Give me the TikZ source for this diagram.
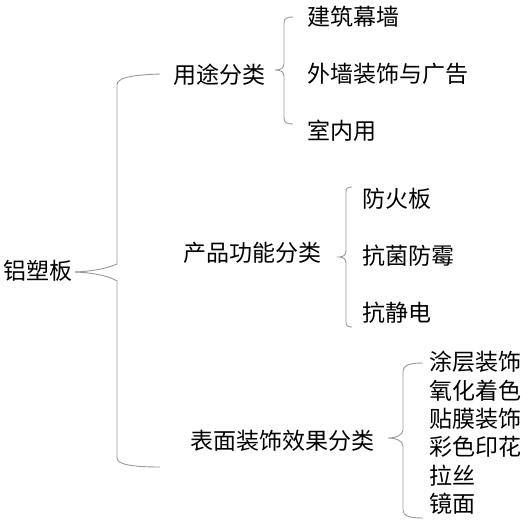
\documentclass[tikz,border=0pt]{standalone}
\usepackage{fontspec}
\newfontfamily\cjk{Noto Sans CJK SC}
\usetikzlibrary{positioning}

\begin{document}
\begin{tikzpicture}[x=1pt,y=-1pt,
                    every node/.style={font=\cjk\fontsize{23}{23}\selectfont,
                                       inner sep=0pt,anchor=west}]
  \tikzstyle{brace}=[draw=black!40,line width=0.9pt]
  \useasboundingbox (0,0) rectangle (531,522);

  \node (alu)  at (3,271)   {铝塑板};
  \node (use)  at (173,75)  {用途分类};
  \node (func) at (183,253) {产品功能分类};
  \node (surf) at (190,441) {表面装饰效果分类};

  \node (wall)   at (307,17)                               {建筑幕墙};
  \node (advert) [below=57pt of wall.west,anchor=west]     {外墙装饰与广告};
  \node (indoor) [below=57pt of advert.west,anchor=west]   {室内用};

  \node (fire)   at (362,199)                              {防火板};
  \node (germ)   [below=57pt of fire.west,anchor=west]     {抗菌防霉};
  \node (static) [below=57pt of germ.west,anchor=west]     {抗静电};

  \node (coat)   at (429,362)                              {涂层装饰};
  \node (oxide)  [below=28.4pt of coat.west,anchor=west]   {氧化着色};
  \node (film)   [below=28.4pt of oxide.west,anchor=west]  {贴膜装饰};
  \node (print)  [below=28.4pt of film.west,anchor=west]   {彩色印花};
  \node (brush)  [below=28.4pt of print.west,anchor=west]  {拉丝};
  \node (mirror) [below=28.4pt of brush.west,anchor=west]  {镜面};

  % main brace
  \coordinate (tip) at (75,272);
  \coordinate (up)  at (160,74);
  \coordinate (dn)  at (160,467);
  \draw[brace] (tip) .. controls (100,271) and (112,266) .. (117,264)
               -- (117,85) .. controls (117,78) and (130,75) .. (up);
  \draw[brace] (tip) .. controls (100,273) and (112,278) .. (117,281)
               -- (117,458) .. controls (117,464) and (130,467) .. (dn);

  % use brace
  \draw[brace] (293,17) .. controls (287,17) and (284,18) .. (284,23) -- (284,64)
               .. controls (284,68) and (281,70) .. (275,70)
               .. controls (281,70) and (284,72) .. (284,76) -- (284,118)
               .. controls (284,123) and (287,124) .. (293,124);

  % function brace
  \draw[brace] (352,187) .. controls (348,187) and (346,188) .. (346,192) -- (346,251)
               .. controls (346,255) and (343,257) .. (339,257)
               .. controls (343,257) and (346,259) .. (346,263) -- (346,322)
               .. controls (346,326) and (348,327) .. (352,327);

  % surface brace
  \draw[brace] (423,363) .. controls (410,363) and (403,365) .. (403,372) -- (403,430)
               .. controls (403,435) and (396,438) .. (388,438)
               .. controls (396,438) and (403,441) .. (403,446) -- (403,510)
               .. controls (403,516) and (410,518) .. (423,518);
\end{tikzpicture}
\end{document}
